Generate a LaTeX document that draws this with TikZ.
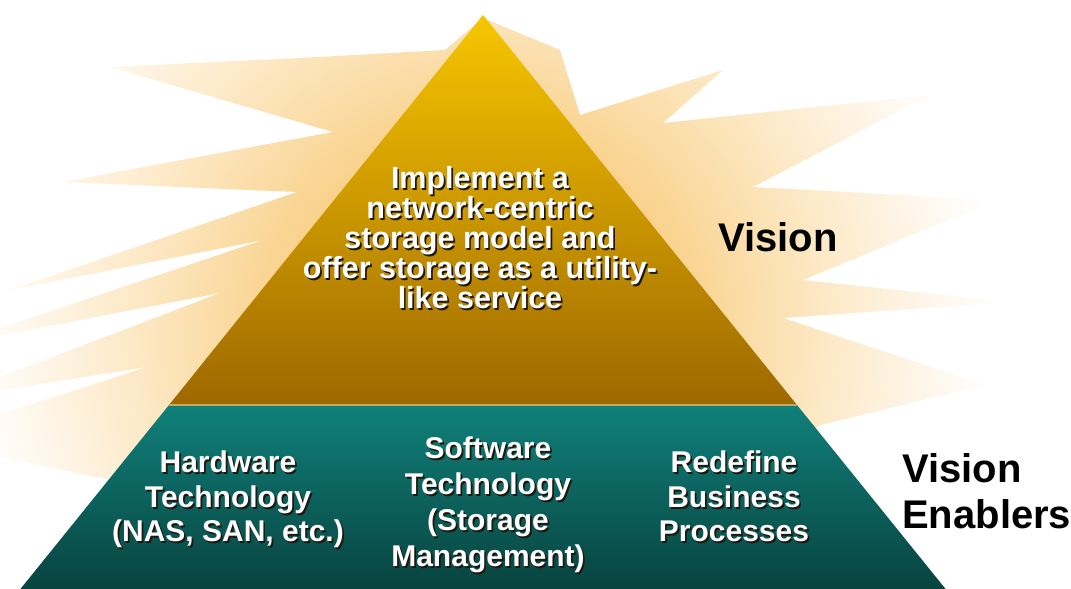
\documentclass[tikz,border=0pt]{standalone}
\usepackage{fontspec}
\setmainfont{Liberation Sans}
\definecolor{pyrtop}{RGB}{247,198,0}
\definecolor{pyrbot}{RGB}{158,104,0}
\definecolor{tealtop}{RGB}{16,128,122}
\definecolor{tealbot}{RGB}{8,66,62}
\definecolor{sepc}{RGB}{196,170,96}
\definecolor{shadowc}{RGB}{30,24,16}
\definecolor{bc0}{RGB}{245,188,84}
\definecolor{bc1}{RGB}{249,210,140}
\definecolor{bc2}{RGB}{252,229,188}
\definecolor{bc3}{RGB}{254,244,228}
\pgfdeclareradialshading{burst}{\pgfpoint{0bp}{0bp}}{color(0bp)=(bc0); color(9.6bp)=(bc1); color(15.4bp)=(bc2); color(20.7bp)=(bc3); color(25bp)=(white); color(50bp)=(white)}
\begin{document}
\begin{tikzpicture}[x=1pt,y=-1pt,
  wlbl/.style={font=\bfseries\fontsize{30.5}{30}\selectfont, text=white, align=center, inner sep=0pt},
  blbl/.style={font=\bfseries\fontsize{30}{34.5}\selectfont, text=white, align=center, inner sep=0pt},
  shd/.style={text=shadowc, xshift=1.7pt, yshift=-1.7pt},
  klbl/.style={font=\bfseries\fontsize{40}{46}\selectfont, text=black, align=left, inner sep=0pt},
  sepline/.style={draw=sepc, line width=1.5pt}]
\useasboundingbox (0,0) rectangle (1071,589);
\fill[white] (0,0) rectangle (1071,589);
% starburst
\begin{scope}
\clip (300,520) -- (-80,440) -- (147,367) -- (-60,400) -- (220,293) -- (-50,345)
  -- (263,240) -- (10,290) -- (297,192) -- (63,182) -- (333,132) -- (110,67)
  -- (300,58) -- (445,50) -- (483,18) -- (560,50) -- (580,115) -- (723,70)
  -- (663,123) -- (930,95) -- (753,187) -- (997,200) -- (803,280) -- (1010,302)
  -- (783,318) -- (985,385) -- (820,425) -- (700,520) -- cycle;
\shade[shading=burst] (480,330) circle[radius=520pt];
\end{scope}
% pyramid
\coordinate (apex) at (483,15);
\coordinate (ml) at (169,405);
\coordinate (mr) at (797,405);
\coordinate (bl) at (18,592);
\coordinate (br) at (948,592);
\shade[top color=pyrtop, bottom color=pyrbot] (apex) -- (mr) -- (ml) -- cycle;
\shade[top color=tealtop, bottom color=tealbot] (ml) -- (mr) -- (br) -- (bl) -- cycle;
\draw[sepline] (ml) -- (mr);
% top text
\node[wlbl, shd, anchor=north] (visiontxt-s) at (480,166) {Implement a\\network-centric\\storage model and\\offer storage as a utility-\\like service};
\node[wlbl, anchor=north] (visiontxt) at (480,166) {Implement a\\network-centric\\storage model and\\offer storage as a utility-\\like service};
% bottom texts
\node[blbl, shd, anchor=north] (hw-s) at (228,451) {Hardware\\Technology\\(NAS, SAN, etc.)};
\node[blbl, anchor=north] (hw) at (228,451) {Hardware\\Technology\\(NAS, SAN, etc.)};
\node[blbl, shd, anchor=north, font=\bfseries\fontsize{30}{36}\selectfont] (sw-s) at (488,437) {Software\\Technology\\(Storage\\Management)};
\node[blbl, anchor=north, font=\bfseries\fontsize{30}{36}\selectfont] (sw) at (488,437) {Software\\Technology\\(Storage\\Management)};
\node[blbl, shd, anchor=north] (bp-s) at (734,451) {Redefine\\Business\\Processes};
\node[blbl, anchor=north] (bp) at (734,451) {Redefine\\Business\\Processes};
% side labels
\node[klbl, anchor=base west] (vision) at (718,251) {Vision};
\node[klbl, anchor=north west] (enablers) at (902,453) {Vision\\Enablers};
\end{tikzpicture}
\end{document}
